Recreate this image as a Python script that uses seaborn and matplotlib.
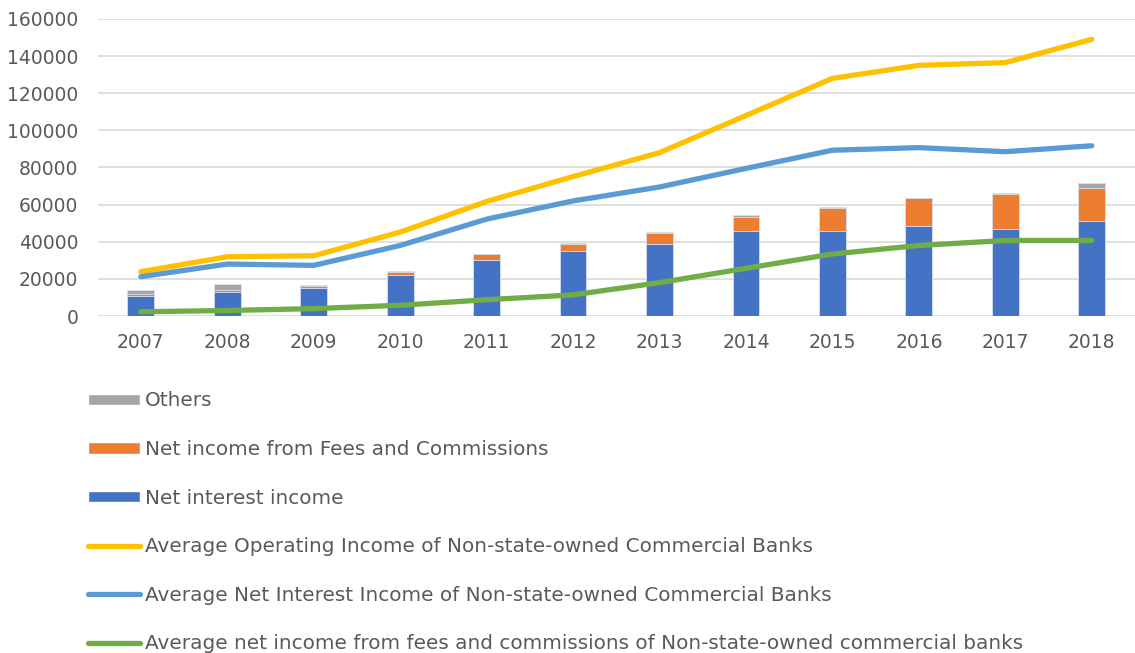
import numpy as np
import pandas as pd
import matplotlib
matplotlib.use("Agg")
import matplotlib.pyplot as plt
from matplotlib.patches import Patch
from matplotlib.lines import Line2D
import seaborn as sns

years = ["2007", "2008", "2009", "2010", "2011", "2012",
         "2013", "2014", "2015", "2016", "2017", "2018"]

# Stacked income components (bars)
net_interest = [10800, 12900, 15300, 22100, 30000, 35000,
                38600, 45800, 45800, 48500, 46900, 51200]
fees_commissions = [900, 1000, 1000, 1600, 3200, 3900,
                    6300, 7700, 12200, 14900, 18700, 17800]
others = [2300, 3200, 300, 500, 300, 500,
          200, 900, 500, 200, 500, 2900]

# Peer averages (lines)
avg_operating = [23900, 31900, 32500, 45200, 61700, 75100,
                 88000, 108000, 128000, 135000, 136500, 149000]
avg_net_interest = [21200, 28000, 27300, 38000, 52200, 62000,
                    69500, 79500, 89300, 90700, 88500, 91700]
avg_fees = [2300, 3000, 4000, 5800, 8800, 11400,
            18000, 25700, 33400, 38000, 40700, 40700]

yticks = [0, 20000, 40000, 60000, 80000, 100000, 120000, 140000, 160000]

C_BLUE, C_ORANGE, C_GRAY = "#4472C4", "#ED7D31", "#A5A5A5"
C_YELLOW, C_LBLUE, C_GREEN = "#FFC000", "#5B9BD5", "#70AD47"
TXT = "#595959"

sns.set_theme(style="white")
plt.rcParams["font.family"] = ["DejaVu Sans"]

df = pd.DataFrame({
    "year": years,
    "interest": net_interest,
    "fees": fees_commissions,
    "others": others,
})
df["lvl2"] = df["interest"] + df["fees"]
df["lvl3"] = df["lvl2"] + df["others"]

fig = plt.figure(figsize=(11.35, 6.53), dpi=100)
ax = fig.add_axes([0.086, 0.516, 0.914, 0.455])

bw = 0.31
bar_kw = dict(width=bw, edgecolor="#d9e1f2", linewidth=0.6, ax=ax,
              order=years, errorbar=None)
# Draw cumulative totals back to front so they appear stacked
sns.barplot(data=df, x="year", y="lvl3", color=C_GRAY, saturation=1, **bar_kw)
sns.barplot(data=df, x="year", y="lvl2", color=C_ORANGE, saturation=1, **bar_kw)
sns.barplot(data=df, x="year", y="interest", color=C_BLUE, saturation=1, **bar_kw)

pos = np.arange(len(years))
line_kw = dict(ax=ax, linewidth=3.8, solid_capstyle="round",
               solid_joinstyle="round", legend=False)
sns.lineplot(x=pos, y=avg_operating, color=C_YELLOW, **line_kw)
sns.lineplot(x=pos, y=avg_net_interest, color=C_LBLUE, **line_kw)
sns.lineplot(x=pos, y=avg_fees, color=C_GREEN, **line_kw)

ax.set_xlim(-0.5, len(years) - 0.5)
ax.set_ylim(0, 160000)
ax.set_yticks(yticks)
ax.set_yticklabels([str(v) for v in yticks])
ax.set_xticks(pos)
ax.set_xticklabels(years)
ax.set_xlabel("")
ax.set_ylabel("")
ax.yaxis.grid(True, color="#d9d9d9", linewidth=1.2)
ax.set_axisbelow(True)
for s in ax.spines.values():
    s.set_visible(False)
ax.tick_params(axis="both", length=0, labelsize=13.5, colors=TXT)
ax.tick_params(axis="y", pad=14)
ax.tick_params(axis="x", pad=12)

handles = [
    Patch(facecolor=C_GRAY, label="Others"),
    Patch(facecolor=C_ORANGE, label="Net income from Fees and Commissions"),
    Patch(facecolor=C_BLUE, label="Net interest income"),
    Line2D([], [], color=C_YELLOW, lw=3.8,
           label="Average Operating Income of Non-state-owned Commercial Banks"),
    Line2D([], [], color=C_LBLUE, lw=3.8,
           label="Average Net Interest Income of Non-state-owned Commercial Banks"),
    Line2D([], [], color=C_GREEN, lw=3.8,
           label="Average net income from fees and commissions of Non-state-owned commercial banks"),
]
leg = fig.legend(handles=handles, loc="upper left",
                 bbox_to_anchor=(0.0705, 0.413), frameon=False,
                 fontsize=14.4, labelcolor=TXT, handlelength=2.6,
                 handleheight=0.5, handletextpad=0.25, labelspacing=1.48,
                 borderaxespad=0)

fig.savefig("out.png", dpi=100, facecolor="white")
